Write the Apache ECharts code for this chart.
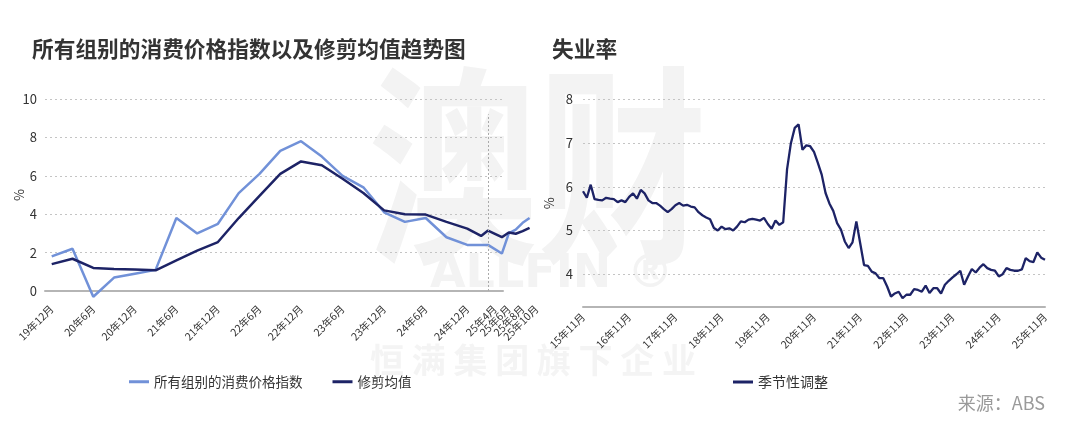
<!DOCTYPE html>
<html>
<head>
<meta charset="utf-8">
<script src="https://cdn.jsdelivr.net/npm/echarts@6/dist/echarts.min.js"></script>
<style>
  html, body { margin: 0; padding: 0; background: #fff; }
  #chart { width: 1080px; height: 438px; }
</style>
</head>
<body>
<div id="chart"></div>
<script>
// 所有组别的消费价格指数 (季度 -> 月度)
const cpiAllPeriods = ['19年12月', '20年3月', '20年6月', '20年9月', '20年12月', '21年3月', '21年6月', '21年9月',
  '21年12月', '22年3月', '22年6月', '22年9月', '22年12月', '23年3月', '23年6月', '23年9月', '23年12月',
  '24年3月', '24年6月', '24年9月', '24年12月', '25年3月', '25年5月', '25年6月', '25年7月', '25年8月', '25年9月']
const cpiAllValues = [1.8, 2.2, -0.3, 0.7, 0.9, 1.1, 3.8, 3.0,
  3.5, 5.1, 6.1, 7.3, 7.8, 7.0, 6.0, 5.4, 4.1,
  3.6, 3.8, 2.8, 2.4, 2.4, 1.95, 3.0, 3.2, 3.55, 3.8]

// 修剪均值
const trimmedPeriods = ['19年12月', '20年3月', '20年6月', '20年9月', '20年12月', '21年3月', '21年6月', '21年9月',
  '21年12月', '22年3月', '22年6月', '22年9月', '22年12月', '23年3月', '23年6月', '23年9月', '23年12月',
  '24年3月', '24年6月', '24年9月', '24年12月', '25年2月', '25年3月', '25年5月', '25年6月', '25年7月', '25年8月', '25年9月']
const trimmedValues = [1.4, 1.68, 1.2, 1.15, 1.12, 1.08, 1.6, 2.1,
  2.55, 3.8, 4.95, 6.1, 6.75, 6.55, 5.85, 5.1, 4.2,
  4.0, 3.98, 3.6, 3.25, 2.87, 3.15, 2.8, 3.05, 2.98, 3.12, 3.29]

// the crowded labels at the end are split over two label rows so none gets dropped
const cpiTickLabels = ['19年12月', '20年6月', '20年12月', '21年6月', '21年12月', '22年6月', '22年12月', '23年6月',
  '23年12月', '24年6月', '24年12月', '25年4月', '25年8月']
const cpiTickLabels2 = ['25年6月', '25年10月']
const cutoffPeriod = '25年3月'

// 失业率 季节性调整, 15年11月 - 25年11月
const unempValues = [
  5.9, 5.75, 6.05, 5.72, 5.7, 5.69, 5.75, 5.73, 5.72, 5.65, 5.69, 5.65,
  5.77, 5.85, 5.73, 5.93, 5.85, 5.69, 5.63, 5.63, 5.57, 5.49, 5.42, 5.49,
  5.58, 5.63, 5.57, 5.59, 5.55, 5.53, 5.42, 5.35, 5.3, 5.26, 5.06, 5.0,
  5.09, 5.03, 5.05, 5.0, 5.09, 5.21, 5.19, 5.25, 5.27, 5.25, 5.23, 5.29,
  5.15, 5.04, 5.23, 5.13, 5.19, 6.4, 7.0, 7.35, 7.43, 6.85, 6.95, 6.93,
  6.8, 6.55, 6.28, 5.86, 5.62, 5.45, 5.17, 5.02, 4.75, 4.6, 4.73, 5.21,
  4.71, 4.21, 4.19, 4.06, 4.02, 3.91, 3.91, 3.72, 3.49, 3.56, 3.6, 3.45,
  3.53, 3.53, 3.66, 3.64, 3.6, 3.74, 3.57, 3.68, 3.68, 3.56, 3.76, 3.85,
  3.93, 4.0, 4.08, 3.76, 3.95, 4.12, 4.04, 4.15, 4.23, 4.14, 4.1, 4.08,
  3.95, 4.0, 4.14, 4.1, 4.08, 4.08, 4.11, 4.37, 4.3, 4.28, 4.5, 4.38,
  4.33
]
const unempYTicks = [4, 5, 6, 7, 8]

// '19年12月' -> months since 2019-12
function toMonth(label) {
  const m = label.match(/(\d+)年(\d+)月/)
  return (Number(m[1]) - 19) * 12 + Number(m[2]) - 12
}

const unempMonths = []
for (let i = 0; i < unempValues.length; i++) {
  const t = 10 + i  // 15年11月 is month 10 of 2015
  unempMonths.push((15 + Math.floor(t / 12)) + '年' + (t % 12 + 1) + '月')
}

const LIGHT = '#7191d8'
const NAVY = '#1d2366'
const FONT = 'Noto Sans CJK SC'
const gridLine = { lineStyle: { color: '#c4c4c4', type: [2, 3], width: 1 } }
const axisLine = { show: true, onZero: false, lineStyle: { color: '#b5b5b5', width: 2 } }

const cutoff = toMonth(cutoffPeriod)

function monthAxis(labels) {
  const values = labels.map(toMonth)
  return {
    gridIndex: 1, type: 'value', min: -1, max: 70, position: 'bottom',
    axisLine: { show: false }, axisTick: { show: false }, splitLine: { show: false },
    axisLabel: {
      customValues: values, rotate: 45, margin: 16, fontSize: 10.5, color: '#333',
      showMinLabel: true, showMaxLabel: true, hideOverlap: false,
      formatter: (v) => labels[values.indexOf(v)] || ''
    }
  }
}

const chart = echarts.init(document.getElementById('chart'))
chart.setOption({
  animation: false,
  textStyle: { fontFamily: FONT },
  title: [
    { text: '所有组别的消费价格指数以及修剪均值趋势图', left: 27, top: 33,
      textStyle: { fontFamily: FONT, fontSize: 21.7, fontWeight: 'bold', color: '#333' } },
    { text: '失业率', left: 547, top: 33,
      textStyle: { fontFamily: FONT, fontSize: 21.7, fontWeight: 'bold', color: '#333' } }
  ],
  legend: [
    { data: ['所有组别的消费价格指数', '修剪均值'], left: 124, top: 370, icon: 'rect',
      itemWidth: 20, itemHeight: 3, itemGap: 30,
      textStyle: { fontFamily: FONT, fontSize: 13.5, color: '#333' } },
    { data: ['季节性调整'], left: 728, top: 370, icon: 'rect',
      itemWidth: 20, itemHeight: 3,
      textStyle: { fontFamily: FONT, fontSize: 14, color: '#333' } }
  ],
  graphic: [
    { type: 'text', left: 368, top: 60, z: -10, silent: true, scaleX: 0.8,
      style: { text: '澳财', fontSize: 212, fontWeight: 'bold', fontFamily: FONT, fill: '#f3f3f3' } },
    { type: 'text', left: 430, top: 252, z: -10, silent: true,
      style: { text: 'ALLFIN ®', fontSize: 46, fontWeight: 'bold', fontFamily: 'DejaVu Sans', fill: '#f3f3f3' } },
    { type: 'text', left: 370, top: 343, z: -10, silent: true,
      style: { text: '恒 满 集 团 旗 下 企 业', fontSize: 34, fontWeight: 'bold', fontFamily: FONT, fill: '#f4f4f4' } },
    { type: 'text', right: 35, top: 394, silent: true,
      style: { text: '来源：ABS', fontSize: 18, fontFamily: FONT, fill: '#9a9a9a' } }
  ],
  grid: [
    { left: 45, top: 99, width: 458, height: 192 },
    { left: 44.8, top: 99, width: 491.7, height: 192 },
    { left: 583, top: 99.5, width: 462, height: 207.5 }
  ],
  xAxis: [
    { gridIndex: 0, type: 'value', min: 0, max: 1, axisLine: axisLine,
      axisTick: { show: false }, axisLabel: { show: false }, splitLine: { show: false } },
    monthAxis(cpiTickLabels),
    { gridIndex: 2, type: 'category', data: unempMonths, boundaryGap: false,
      axisLine: axisLine, axisTick: { show: false },
      axisLabel: { interval: 11, rotate: 45, margin: 8, fontSize: 10.5, color: '#333' } },
    monthAxis(cpiTickLabels2)
  ],
  yAxis: [
    { gridIndex: 0, type: 'value', min: 0, max: 10, interval: 2,
      name: '%', nameLocation: 'middle', nameGap: 19, nameRotate: 90, nameMoveOverlap: false,
      nameTextStyle: { fontSize: 13, color: '#333' },
      axisLine: { show: false }, axisTick: { show: false },
      axisLabel: { fontSize: 13, color: '#333', margin: 8 },
      splitLine: gridLine },
    { gridIndex: 1, type: 'value', min: 0, max: 10, show: false },
    { gridIndex: 2, type: 'value', min: 3.25, max: 8,
      name: '%', nameLocation: 'middle', nameGap: 27, nameRotate: 90, nameMoveOverlap: false,
      nameTextStyle: { fontSize: 13, color: '#333' },
      axisLine: { show: false }, axisTick: { show: false, customValues: unempYTicks },
      axisLabel: { fontSize: 13, color: '#333', margin: 10, customValues: unempYTicks },
      splitLine: gridLine }
  ],
  series: [
    { name: '所有组别的消费价格指数', type: 'line', xAxisIndex: 1, yAxisIndex: 1,
      data: cpiAllPeriods.map((p, i) => [toMonth(p), cpiAllValues[i]]),
      symbol: 'none', clip: false, z: 3,
      lineStyle: { color: LIGHT, width: 2.5 }, itemStyle: { color: LIGHT },
      markLine: {
        silent: true, symbol: 'none', label: { show: false },
        lineStyle: { color: '#aaa', type: [2, 2], width: 1 },
        data: [[{ coord: [cutoff, 0] }, { coord: [cutoff, 9.2] }]]
      } },
    { name: '修剪均值', type: 'line', xAxisIndex: 1, yAxisIndex: 1,
      data: trimmedPeriods.map((p, i) => [toMonth(p), trimmedValues[i]]),
      symbol: 'none', clip: false, z: 4,
      lineStyle: { color: NAVY, width: 2.5 }, itemStyle: { color: NAVY } },
    { name: '季节性调整', type: 'line', xAxisIndex: 2, yAxisIndex: 2,
      data: unempValues, symbol: 'none',
      lineStyle: { color: NAVY, width: 2.3 }, itemStyle: { color: NAVY } }
  ]
})
</script>
</body>
</html>
